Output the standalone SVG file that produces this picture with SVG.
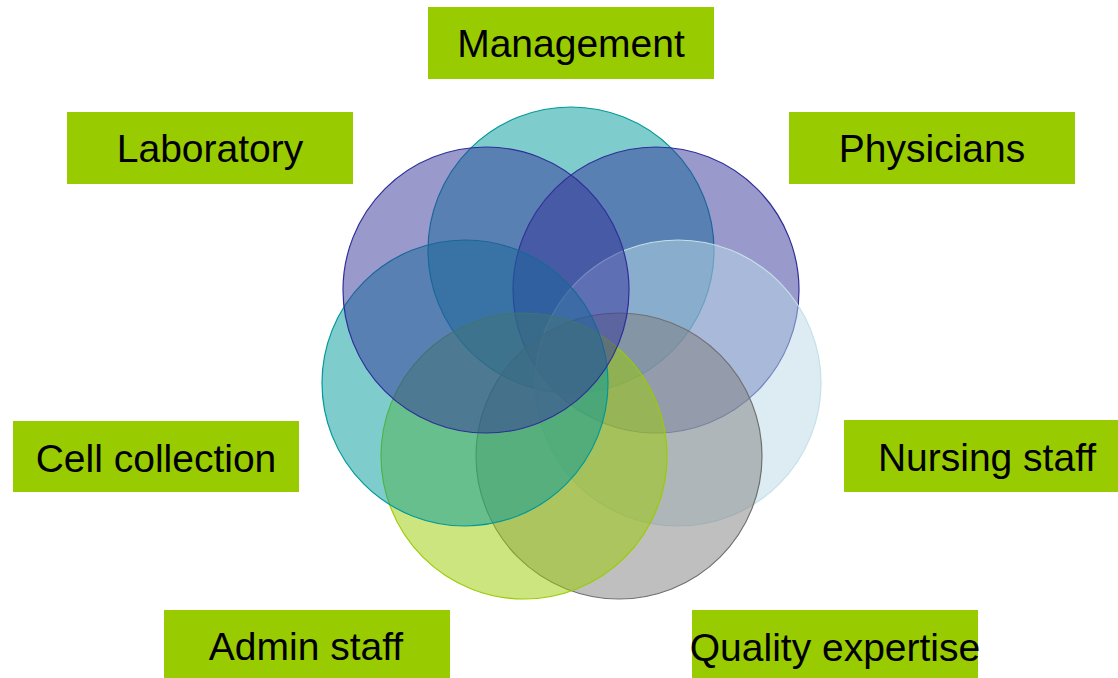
<svg xmlns="http://www.w3.org/2000/svg" width="1118" height="678" viewBox="0 0 1118 678">
  <style>
    .box { fill: #99CC00; }
    .label { font-family: "Liberation Sans", Arial, sans-serif; font-size: 39px; fill: #000000; text-anchor: middle; }
    .ring { stroke-width: 1.2; }
    .teal { fill: #009999; fill-opacity: 0.5; stroke: #009999; }
    .purple { fill: #333399; fill-opacity: 0.5; stroke: #2E2E99; }
    .sky { fill: #B9D9E6; fill-opacity: 0.5; stroke: #C4E0E8; }
    .grey { fill: #808080; fill-opacity: 0.5; stroke: #707070; }
    .lime { fill: #99CC00; fill-opacity: 0.5; stroke: #99CC00; }
  </style>
  <rect width="1118" height="678" fill="#FFFFFF"/>

  <!-- overlapping circles, drawn clockwise from the top -->
  <g id="circles">
    <circle id="c-management" class="ring teal" cx="571" cy="250" r="143"/>
    <circle id="c-physicians" class="ring purple" cx="656" cy="290" r="143"/>
    <circle id="c-nursing" class="ring sky" cx="678" cy="383" r="143"/>
    <circle id="c-quality" class="ring grey" cx="619" cy="456" r="143"/>
    <circle id="c-admin" class="ring lime" cx="524" cy="456" r="143"/>
    <circle id="c-cell" class="ring teal" cx="465" cy="383" r="143"/>
    <circle id="c-laboratory" class="ring purple" cx="486" cy="290" r="143"/>
  </g>

  <g id="connectors"></g>

  <g id="management">
    <rect class="box" x="428" y="7" width="286" height="72"/>
    <text class="label" x="571" y="57">Management</text>
  </g>
  <g id="laboratory">
    <rect class="box" x="67" y="112" width="286" height="72"/>
    <text class="label" x="210" y="162">Laboratory</text>
  </g>
  <g id="physicians">
    <rect class="box" x="789" y="112" width="286" height="72"/>
    <text class="label" x="932" y="162">Physicians</text>
  </g>
  <g id="nursing-staff">
    <rect class="box" x="844" y="420" width="274" height="72"/>
    <text class="label" x="987" y="471">Nursing staff</text>
  </g>
  <g id="cell-collection">
    <rect class="box" x="13" y="421" width="286" height="71"/>
    <text class="label" x="156" y="472">Cell collection</text>
  </g>
  <g id="admin-staff">
    <rect class="box" x="164" y="610" width="286" height="68"/>
    <text class="label" x="306" y="660">Admin staff</text>
  </g>
  <g id="quality-expertise">
    <rect class="box" x="692" y="610" width="286" height="68"/>
    <text class="label" x="835" y="661">Quality expertise</text>
  </g>
</svg>
